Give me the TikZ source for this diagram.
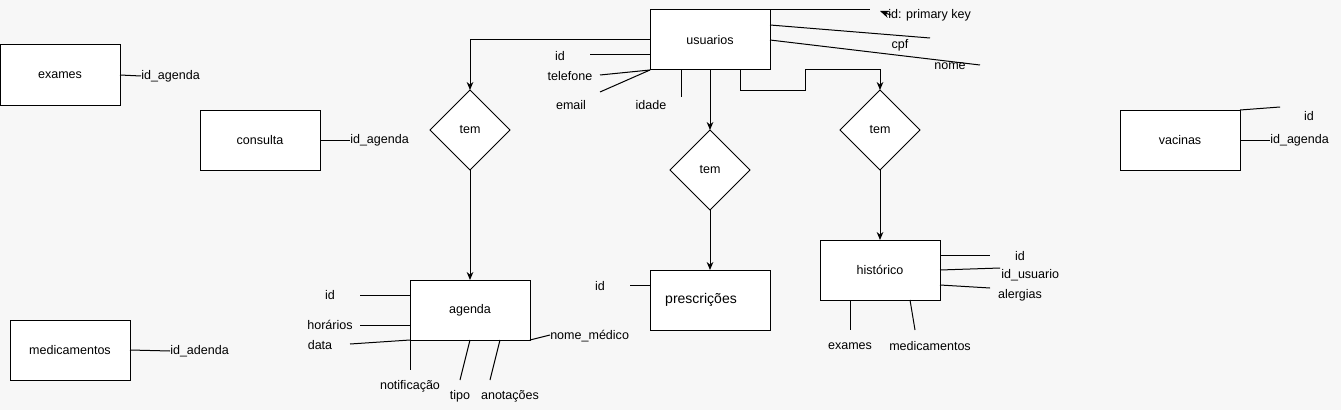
\documentclass[tikz,border=0pt]{standalone}
\usepackage{fontspec}
\setmainfont{Liberation Sans}
\usetikzlibrary{arrows.meta,shapes.geometric,calc}
\definecolor{bgcol}{HTML}{F7F7F7}
\begin{document}
\begin{tikzpicture}[x=0.75pt,y=-0.75pt,
  ent/.style={draw, fill=white, minimum width=90pt, minimum height=45pt, inner sep=0pt, outer sep=0pt, line width=0.75pt, font=\fontsize{9.4}{11}\selectfont},
  rel/.style={draw, fill=white, diamond, aspect=1, minimum width=60pt, minimum height=60pt, inner sep=0pt, outer sep=0pt, line width=0.75pt, font=\fontsize{9.4}{11}\selectfont},
  lbl/.style={inner sep=0pt, font=\fontsize{9.4}{11}\selectfont},
  ln/.style={line width=0.75pt},
  arr/.style={ln, -{Stealth[length=6pt,width=5pt]}}]
\useasboundingbox (0,0) rectangle (1341,410);
\fill[bgcol] (0,0) rectangle (1341,410);

% entities
\node[ent] (usuarios) at (710,40) {usuarios};
\node[ent] (agenda) at (470,310) {agenda};
\node[ent] (presc) at (710,300) {\fontsize{10.5}{12}\selectfont prescrições\kern13.5pt};
\node[ent] (hist) at (880,270) {histórico};
\node[ent] (exames) at (60,75) {exames};
\node[ent] (consulta) at (260,140) {consulta};
\node[ent] (vacinas) at (1180,140) {vacinas};
\node[ent] (medic) at (70,350) {medicamentos};

% relationships
\node[rel] (tem1) at (470,130) {tem};
\node[rel] (tem2) at (710,170) {tem};
\node[rel] (tem3) at (880,130) {tem};

% usuarios labels
\node[lbl, anchor=west] (pk) at (888,15) {id: primary key};
\node[lbl] (cpf) at (900,45) {cpf};
\node[lbl] (nome) at (950,66) {nome};
\node[lbl] (uid) at (560,56) {id};
\node[lbl] (tel) at (570,76) {telefone};
\node[lbl] (email) at (571,105) {email};
\node[lbl] (idade) at (651,105) {idade};

% free ends
\coordinate (pkend) at (870,10);
\coordinate (pktip) at (880,11);
\coordinate (cpfend) at (930,38);
\coordinate (nomeend) at (980,65);
\coordinate (uidend) at (590,55);
\coordinate (telend) at (600,75);
\coordinate (emailend) at (600,92);
\coordinate (idadeend) at (681,97);
\coordinate (b1) at (805,90);
\coordinate (b2) at (880,70);

\draw[ln] (usuarios.north east) -- (pkend);
\draw[ln, -{Stealth[length=7pt,width=5.5pt]}] ([xshift=2pt]pk.west) -- (pktip);
\draw[ln] ($(usuarios.north east)+(0,15)$) -- (cpfend);
\draw[ln] (usuarios.east) -- (nomeend);
\draw[ln] (uidend) -- ($(usuarios.west)+(0,15)$);
\draw[ln] (telend) -- (usuarios.south west);
\draw[ln] (emailend) -- (usuarios.south west);
\draw[ln] ($(usuarios.south west)+(31,0)$) -- (idadeend);

\draw[arr] (usuarios.west) -| (tem1.north);
\draw[arr] (usuarios.south) -- (tem2.north);
\draw[arr] ($(usuarios.south)+(30,0)$) |- (b1) |- (b2) -- (tem3.north);

\draw[arr] (tem1.south) -- (agenda.north);
\draw[arr] (tem2.south) -- (presc.north);
\draw[arr] (tem3.south) -- (hist.north);

% agenda attributes
\node[lbl] (aid) at (330,295) {id};
\node[lbl] (ahor) at (330,325) {horários};
\node[lbl] (adata) at (320,345) {data};
\node[lbl] (anot) at (410,386) {notificação};
\node[lbl] (atipo) at (460,396) {tipo};
\node[lbl] (aanot) at (510,396) {anotações};
\node[lbl, anchor=west] (anome) at (550,336) {nome\_médico};
\coordinate (aidend) at (360,295);
\coordinate (ahorend) at (360,325);
\coordinate (adataend) at (350,344);
\coordinate (anotend) at (410,370);
\coordinate (atipoend) at (460,380);
\coordinate (aanotend) at (490,380);
\coordinate (anomeend) at (550,335);
\draw[ln] (aidend) -- ($(agenda.north west)+(0,15)$);
\draw[ln] (ahorend) -- ($(agenda.south west)+(0,-15)$);
\draw[ln] (adataend) -- (agenda.south west);
\draw[ln] (agenda.south west) -- (anotend);
\draw[ln] (agenda.south) -- (atipoend);
\draw[ln] ($(agenda.south)+(30,0)$) -- (aanotend);
\draw[ln] (agenda.south east) -- (anomeend);

% prescricoes
\node[lbl] (pid) at (600,286) {id};
\coordinate (pidend) at (630,285);
\draw[ln] (pidend) -- ($(presc.north west)+(0,15)$);

% historico
\node[lbl] (hid) at (1020,256) {id};
\node[lbl, anchor=west] (huid) at (1001,275) {id\_usuario};
\node[lbl] (hal) at (1020,295) {alergias};
\node[lbl] (hex) at (850,346) {exames};
\node[lbl] (hmed) at (930,346) {medicamentos};
\coordinate (hidend) at (990,255);
\coordinate (huidend) at (1000,268);
\coordinate (halend) at (990,288);
\coordinate (hexend) at (850,330);
\coordinate (hmedend) at (915,330);
\draw[ln] ($(hist.north east)+(0,15)$) -- (hidend);
\draw[ln] (hist.east) -- (huidend);
\draw[ln] ($(hist.south east)+(0,-15)$) -- (halend);
\draw[ln] ($(hist.south west)+(30,0)$) -- (hexend);
\draw[ln] ($(hist.south)+(30,0)$) -- (hmedend);

% exames, consulta, vacinas, medicamentos
\node[lbl, anchor=west] (exid) at (141,76) {id\_agenda};
\draw[ln] (exames.east) -- (exid.west);
\node[lbl, anchor=west] (coid) at (350,140) {id\_agenda};
\draw[ln] (consulta.east) -- (coid.west);
\node[lbl] (vid) at (1309,116) {id};
\coordinate (vidend) at (1280,107);
\draw[ln] (vacinas.north east) -- (vidend);
\node[lbl, anchor=west] (vag) at (1270,140) {id\_agenda};
\draw[ln] (vacinas.east) -- (vag.west);
\node[lbl, anchor=west] (mid) at (170,351) {id\_adenda};
\draw[ln] (medic.east) -- (mid.west);
\end{tikzpicture}
\end{document}
